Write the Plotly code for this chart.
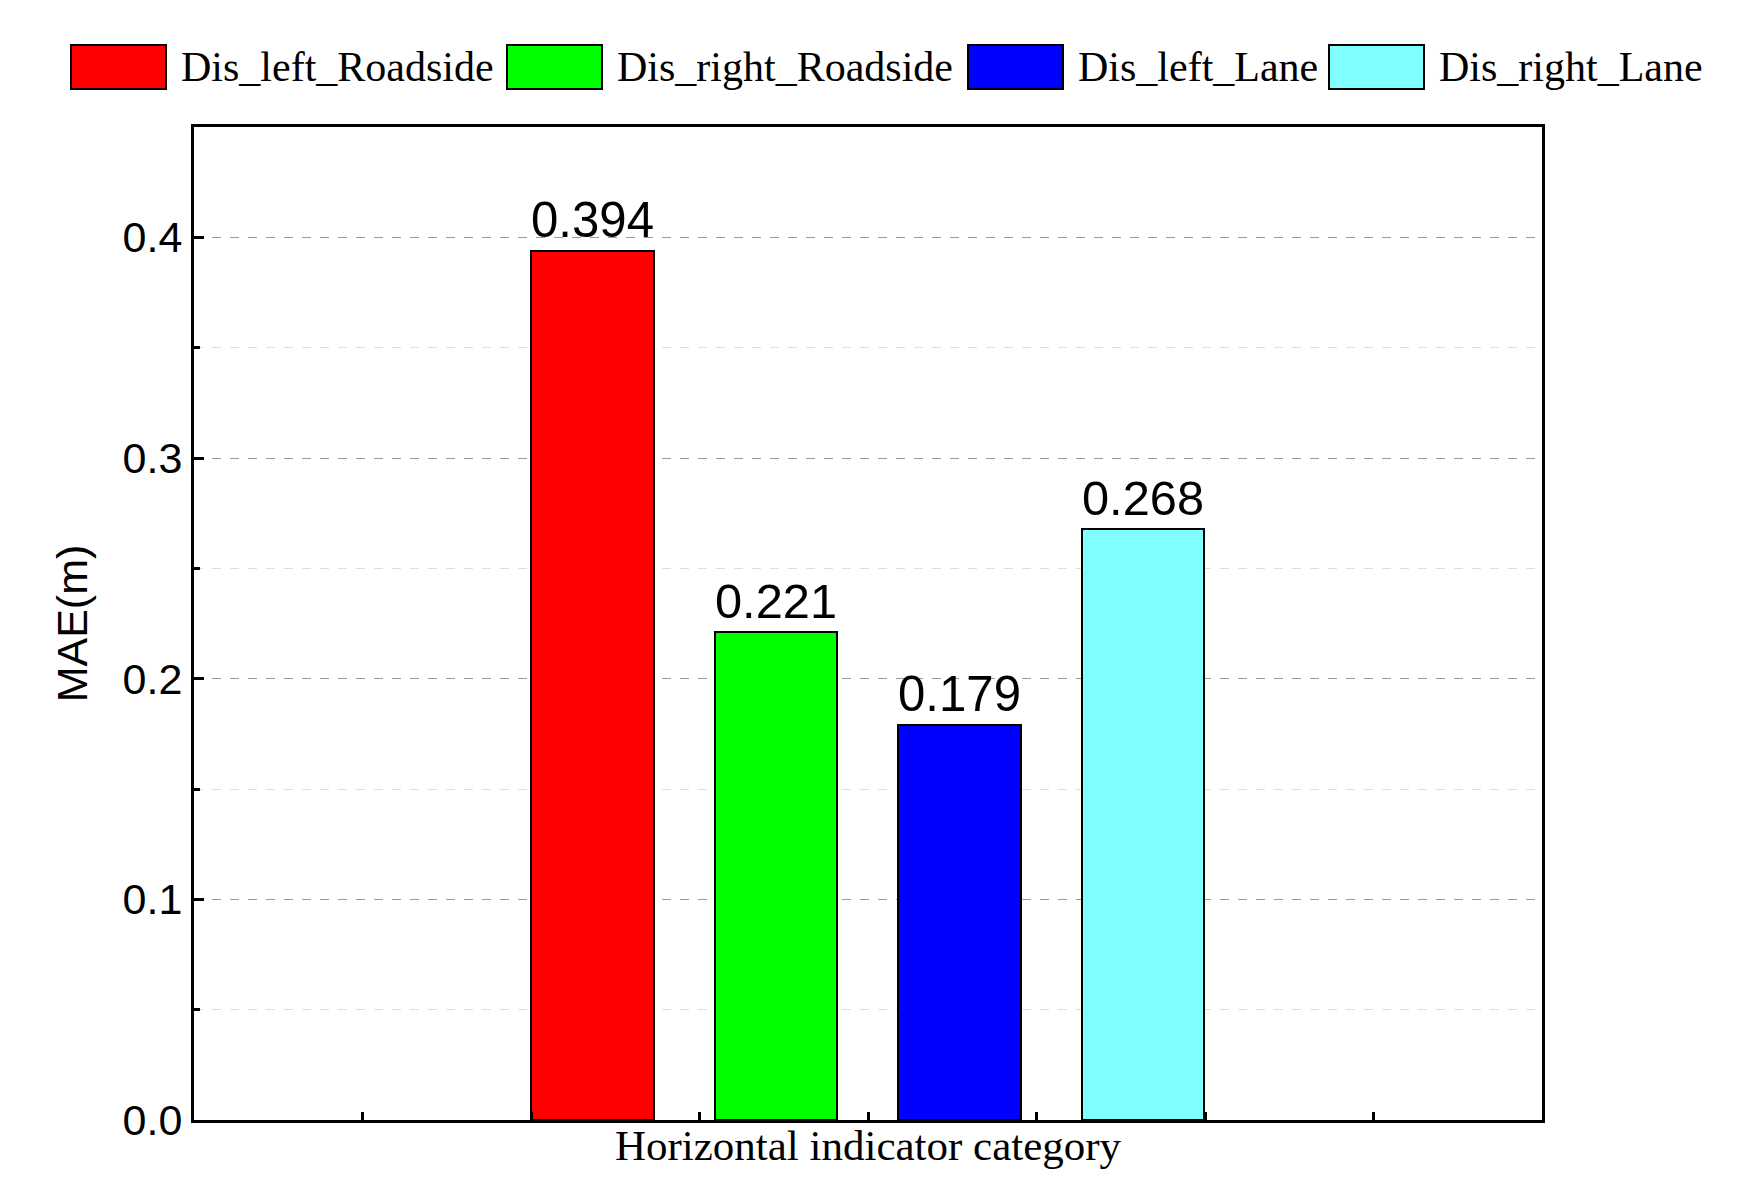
import plotly.graph_objects as go

names = ["Dis_left_Roadside", "Dis_right_Roadside", "Dis_left_Lane", "Dis_right_Lane"]
values = [0.394, 0.221, 0.179, 0.268]
colors = ["#ff0000", "#00ff00", "#0000ff", "#80ffff"]
category = 4

W, H = 1743, 1200
L, R, T, B = 186, 209, 119, 88
pw, ph = W - L - R, H - T - B
def px(x): return (x - L) / pw
def py(y): return (H - B - y) / ph

fig = go.Figure()
bw = 0.727
step = 1.09
for i, (n, v, c) in enumerate(zip(names, values, colors)):
    fig.add_trace(go.Bar(
        x=[category], y=[v], name=n, width=bw,
        offset=-2 + i * step,
        marker=dict(color=c, line=dict(color="black", width=2)),
        text=[f"{v:.3f}"], textposition="outside",
        textfont=dict(family="Liberation Sans", size=50, color="black"),
        cliponaxis=False, showlegend=False,
    ))

# manual legend (large boxes)
box_x = [63, 499, 960, 1321]
for i, (n, c) in enumerate(zip(names, colors)):
    fig.add_shape(type="rect", xref="paper", yref="paper",
                  x0=px(box_x[i]), x1=px(box_x[i] + 95), y0=py(81), y1=py(37),
                  fillcolor=c, line=dict(color="black", width=2))
    fig.add_annotation(xref="paper", yref="paper", x=px(box_x[i] + 108), y=py(59),
                       xanchor="left", yanchor="middle", text=n, showarrow=False,
                       font=dict(family="Liberation Serif", size=42, color="black"))

fig.update_layout(
    width=W, height=H, plot_bgcolor="white", paper_bgcolor="white",
    margin=dict(l=L, r=R, t=T, b=B, autoexpand=False),
    showlegend=False, bargap=0,
)
fig.update_xaxes(range=[0, 8], tickvals=[1, 2, 3, 4, 5, 6, 7], showticklabels=False,
                 ticks="inside", ticklen=8, tickwidth=3, tickcolor="black",
                 showline=True, linewidth=3, linecolor="black", mirror=True, showgrid=False,
                 zeroline=False,
                 title=dict(text="Horizontal indicator category", standoff=8,
                            font=dict(family="Liberation Serif", size=43, color="black")))
fig.update_yaxes(range=[0, 0.45], dtick=0.1, tickformat=".1f",
                 ticks="inside", ticklen=10, tickwidth=3, tickcolor="black",
                 tickfont=dict(family="Liberation Sans", size=43, color="black"),
                 showline=True, linewidth=3, linecolor="black", mirror=True,
                 showgrid=True, gridcolor="#999999", griddash="dash", gridwidth=1,
                 zeroline=False,
                 minor=dict(dtick=0.05, ticks="inside", ticklen=6, tickcolor="black",
                            showgrid=True, gridcolor="#dddddd", griddash="dash"),
                 title=dict(text="MAE(m)", standoff=22,
                            font=dict(family="Liberation Sans", size=43, color="black")))
fig.write_html("out.html")
